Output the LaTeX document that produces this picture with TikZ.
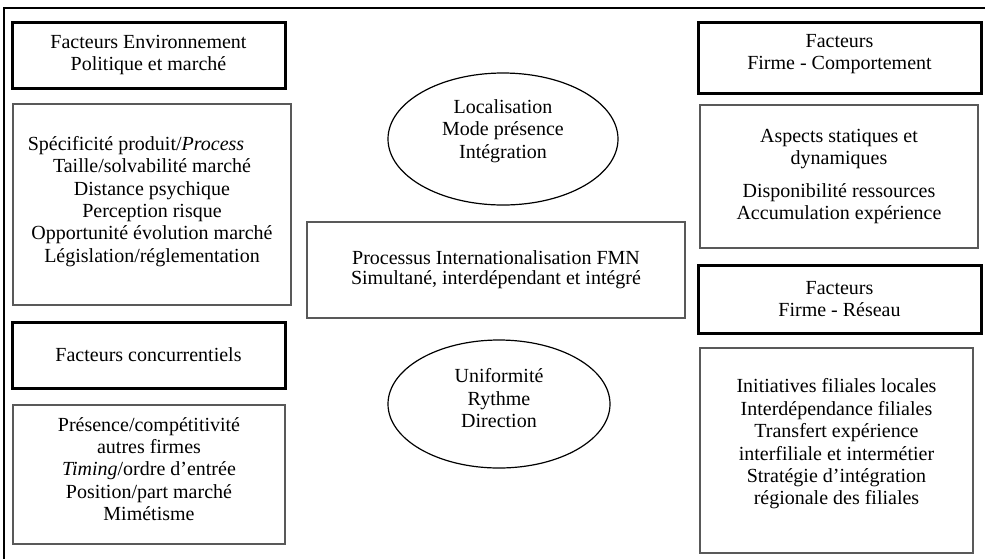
\documentclass[tikz,border=0pt]{standalone}
\usepackage{fontspec}
\setmainfont{Liberation Serif}
\usepackage{tikz}
\usetikzlibrary{shapes.geometric}

\begin{document}
\begin{tikzpicture}[x=0.5pt,y=-0.5pt,
    every node/.style={align=center, inner sep=0pt, font=\fontsize{10}{11.2}\selectfont},
    head/.style={draw, line width=1.5pt},
    body/.style={draw=black!65, line width=0.6pt},
    oval/.style={ellipse, draw, line width=0.6pt}]

    \useasboundingbox (0,0) rectangle (985,559);
    % frame (only top and left edges show)
    \draw[line width=0.75pt] (985,8) -- (4,8) -- (4,559);

    % left column
    \node[head, minimum width=136.5pt, minimum height=33pt] (envhead) at (148.5,55)
        {Facteurs Environnement\\ Politique et marché};
    \node[body, minimum width=139pt, minimum height=100.5pt, text depth=5.2pt] (envbox) at (152,204.5)
        {Spécificité produit/\textit{Process}\hspace*{16pt}\\ Taille/solvabilité marché\\ Distance psychique\\
         Perception risque\\ Opportunité évolution marché\\ Législation/réglementation};
    \node[head, minimum width=136.5pt, minimum height=33pt] (conchead) at (148.5,355)
        {Facteurs concurrentiels};
    \node[body, minimum width=136pt, minimum height=69.5pt, text depth=5.5pt] (concbox) at (149,474.5)
        {Présence/compétitivité\\ autres firmes\\ \textit{Timing}/ordre d’entrée\\
         Position/part marché\\ Mimétisme};

    % centre
    \node[oval, minimum width=115pt, minimum height=66pt, text depth=10.2pt] (loc) at (503,139)
        {Localisation\\ Mode présence\\ Intégration};
    \node[body, minimum width=189pt, minimum height=48pt] (proc) at (496,270)
        {Processus Internationalisation FMN\\[-1pt] Simultané, interdépendant et intégré};
    \node[oval, minimum width=111pt, minimum height=64pt, text depth=6pt] (unif) at (499,404)
        {Uniformité\\ Rythme\\ Direction};

    % right column
    \node[head, minimum width=141.5pt, minimum height=35.5pt, text depth=5.7pt] (comphead) at (839.5,57.5)
        {Facteurs\\ Firme - Comportement};
    \node[body, minimum width=139pt, minimum height=71.5pt] (compbox) at (839,176.5)
        {Aspects statiques et\\ dynamiques\\[5pt] Disponibilité ressources\\ Accumulation expérience};
    \node[head, minimum width=141.5pt, minimum height=34pt] (reshead) at (839.5,299)
        {Facteurs\\ Firme - Réseau};
    \node[body, minimum width=136.5pt, minimum height=102.5pt, text depth=8.7pt] (resbox) at (836.5,450.5)
        {Initiatives filiales locales\\ Interdépendance filiales\\ Transfert expérience\\
         interfiliale et intermétier\\ Stratégie d’intégration\\ régionale des filiales};

\end{tikzpicture}
\end{document}
